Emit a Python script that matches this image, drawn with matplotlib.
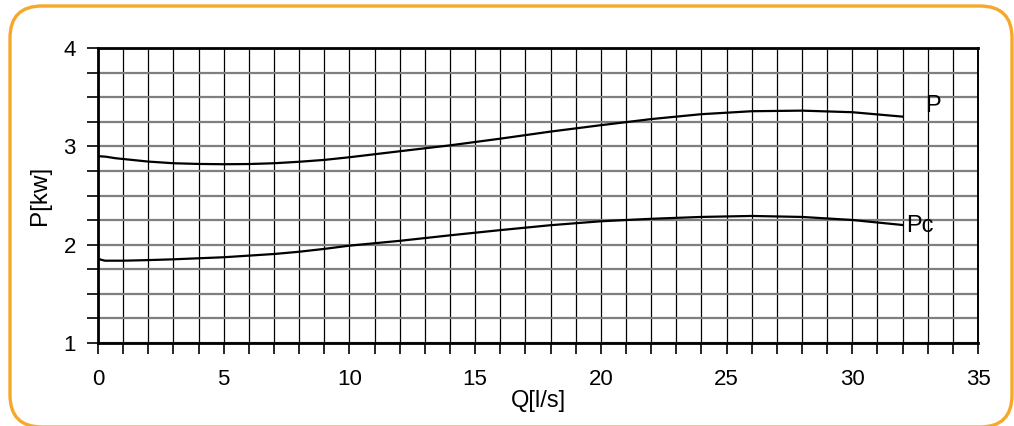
import numpy as np
import matplotlib
matplotlib.use("Agg")
import matplotlib.pyplot as plt
from matplotlib.patches import FancyBboxPatch
from matplotlib.ticker import MultipleLocator

plt.rcParams["font.family"] = ["Liberation Sans", "DejaVu Sans"]

# --- data ---
q_p = [0, 0.3, 0.7, 2, 3, 4, 5, 6, 7, 8, 9, 10, 12, 14, 16, 18, 20, 22, 24,
       26, 28, 30, 32]
p_vals = [2.90, 2.895, 2.879, 2.845, 2.828, 2.821, 2.818, 2.820, 2.828, 2.843,
          2.862, 2.889, 2.95, 3.01, 3.078, 3.150, 3.215, 3.277, 3.327,
          3.357, 3.363, 3.347, 3.302]

q_pc = [0, 0.1, 0.28, 1, 2, 3, 5, 7, 8, 9, 10, 12, 14, 16, 18, 20, 22, 24,
        26, 28, 30, 32]
pc_vals = [1.862, 1.848, 1.837, 1.837, 1.843, 1.851, 1.872, 1.905, 1.928,
           1.957, 1.99, 2.039, 2.095, 2.148, 2.198, 2.238, 2.263, 2.282,
           2.292, 2.282, 2.251, 2.20]

x_ticks = [0, 5, 10, 15, 20, 25, 30, 35]
y_ticks = [1, 2, 3, 4]

fig = plt.figure(figsize=(10.14, 4.26), dpi=100)
ax = fig.add_axes([98 / 1014, 1 - 343 / 426, 880 / 1014, 295 / 426])

# orange rounded frame around the whole picture
frame = FancyBboxPatch((0.10, -0.01), 10.02, 4.21,
                       boxstyle="round,pad=0,rounding_size=0.32",
                       transform=fig.dpi_scale_trans, fill=False,
                       edgecolor="#F6A82A", linewidth=2.4, clip_on=False)
fig.patches.append(frame)

ax.plot(q_p, p_vals, color="black", lw=1.6, zorder=3)
ax.plot(q_pc, pc_vals, color="black", lw=1.6, zorder=3)
ax.text(32.9, 3.35, "P", fontsize=17, va="baseline", ha="left")
ax.text(32.15, 2.13, "Pc", fontsize=17, va="baseline", ha="left")

ax.set_xlim(0, 35)
ax.set_ylim(1, 4)
ax.set_xticks(x_ticks)
ax.set_yticks(y_ticks)
ax.xaxis.set_minor_locator(MultipleLocator(1))
ax.yaxis.set_minor_locator(MultipleLocator(0.25))

ax.grid(which="both", axis="x", color="black", lw=0.9)
ax.grid(which="both", axis="y", color="#7f7f7f", lw=1.6)
ax.set_axisbelow(True)

ax.tick_params(which="both", direction="out", length=8, width=1.2, color="black")
ax.tick_params(which="major", labelsize=16)
ax.tick_params(axis="x", which="major", pad=11)
ax.tick_params(axis="y", which="major", pad=8)

for side in ["left", "bottom", "top"]:
    ax.spines[side].set_linewidth(2)
ax.spines["right"].set_linewidth(1.4)

ax.set_xlabel("Q[l/s]", fontsize=17, labelpad=0)
ax.set_ylabel("P[kw]", fontsize=17.5, labelpad=9)

fig.savefig("out.png", dpi=100)
